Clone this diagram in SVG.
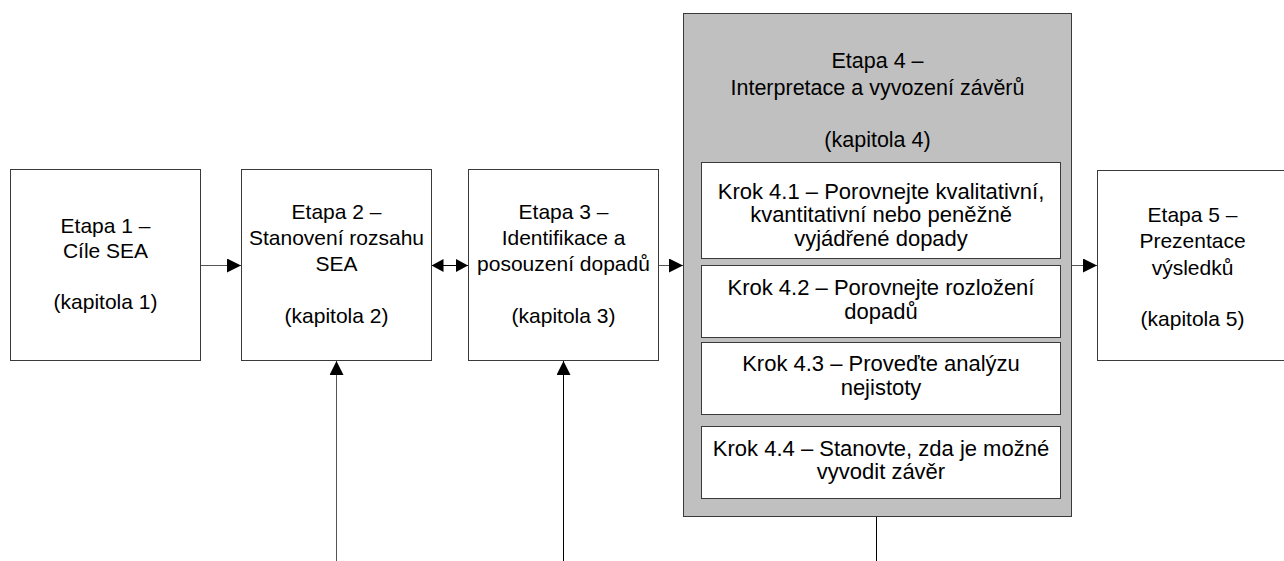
<svg xmlns="http://www.w3.org/2000/svg" width="1284" height="561" viewBox="0 0 1284 561">
<style>
.box{fill:#ffffff;stroke:#3a3a3a;stroke-width:1}
.gray{fill:#c0c0c0;stroke:#3a3a3a;stroke-width:1}
text{font-family:"Liberation Sans",Arial,sans-serif;font-size:21px;fill:#000;text-anchor:middle}
.in{font-size:22px}
.t4{font-size:21.5px}
.ln{stroke:#555;stroke-width:1;fill:none}
.lnk{stroke:#000;stroke-width:1;fill:none}
</style>
<defs>
<marker id="ah" markerUnits="userSpaceOnUse" markerWidth="14" markerHeight="14" refX="14" refY="7" orient="auto"><path d="M0,0 L14,7 L0,14 z" fill="#000"/></marker>
<marker id="ahs" markerUnits="userSpaceOnUse" markerWidth="12" markerHeight="13" refX="12" refY="6.5" orient="auto-start-reverse"><path d="M0,0 L12,6.5 L0,13 z" fill="#000"/></marker>
</defs>
<g id="connectors">
<line class="ln" x1="200.5" y1="265.5" x2="241" y2="265.5" marker-end="url(#ah)"/>
<line class="lnk" x1="431.5" y1="265.5" x2="468" y2="265.5" marker-start="url(#ahs)" marker-end="url(#ahs)"/>
<line class="ln" x1="658.5" y1="265.5" x2="683" y2="265.5" marker-end="url(#ah)"/>
<line class="ln" x1="1071.5" y1="265.5" x2="1097" y2="265.5" marker-end="url(#ah)"/>
<line class="ln" x1="336.5" y1="561" x2="336.5" y2="361" marker-end="url(#ah)"/>
<line class="lnk" x1="563.5" y1="561" x2="563.5" y2="361" marker-end="url(#ah)"/>
<line class="lnk" x1="876.5" y1="516.5" x2="876.5" y2="561"/>
</g>
<g id="etapa1">
<rect class="box" x="10.5" y="169.5" width="190" height="191"/>
<text x="105.5" y="233">Etapa 1 –</text>
<text x="105.5" y="258">Cíle SEA</text>
<text x="105.5" y="309">(kapitola 1)</text>
</g>
<g id="etapa2">
<rect class="box" x="241.5" y="169.5" width="190" height="191"/>
<text x="336.5" y="219">Etapa 2 –</text>
<text x="336.5" y="245">Stanovení rozsahu</text>
<text x="336.5" y="271">SEA</text>
<text x="336.5" y="323">(kapitola 2)</text>
</g>
<g id="etapa3">
<rect class="box" x="468.5" y="169.5" width="190" height="191"/>
<text x="563.5" y="219">Etapa 3 –</text>
<text x="563.5" y="245">Identifikace a</text>
<text x="563.5" y="271">posouzení dopadů</text>
<text x="563.5" y="323">(kapitola 3)</text>
</g>
<g id="etapa4">
<rect class="gray" x="683.5" y="13.5" width="388" height="503"/>
<text class="t4" x="877.5" y="68">Etapa 4 –</text>
<text class="t4" x="877.5" y="94.5">Interpretace a vyvození závěrů</text>
<text class="t4" x="877.5" y="146.5">(kapitola 4)</text>
</g>
<g id="krok41">
<rect class="box" x="701.5" y="162.5" width="359" height="96"/>
<text class="in" x="881" y="198.5">Krok 4.1 – Porovnejte kvalitativní,</text>
<text class="in" x="881" y="222">kvantitativní nebo peněžně</text>
<text class="in" x="881" y="245.5">vyjádřené dopady</text>
</g>
<g id="krok42">
<rect class="box" x="701.5" y="265.5" width="359" height="72"/>
<text class="in" x="881" y="295">Krok 4.2 – Porovnejte rozložení</text>
<text class="in" x="881" y="318.5">dopadů</text>
</g>
<g id="krok43">
<rect class="box" x="701.5" y="342.5" width="359" height="72"/>
<text class="in" x="881" y="371">Krok 4.3 – Proveďte analýzu</text>
<text class="in" x="881" y="394.5">nejistoty</text>
</g>
<g id="krok44">
<rect class="box" x="701.5" y="426.5" width="359" height="72"/>
<text class="in" x="881" y="455.5">Krok 4.4 – Stanovte, zda je možné</text>
<text class="in" x="881" y="479">vyvodit závěr</text>
</g>
<g id="etapa5">
<rect class="box" x="1097.5" y="170.5" width="190" height="190"/>
<text x="1192.5" y="222">Etapa 5 –</text>
<text x="1192.5" y="248">Prezentace</text>
<text x="1192.5" y="274.5">výsledků</text>
<text x="1192.5" y="326">(kapitola 5)</text>
</g>
</svg>
